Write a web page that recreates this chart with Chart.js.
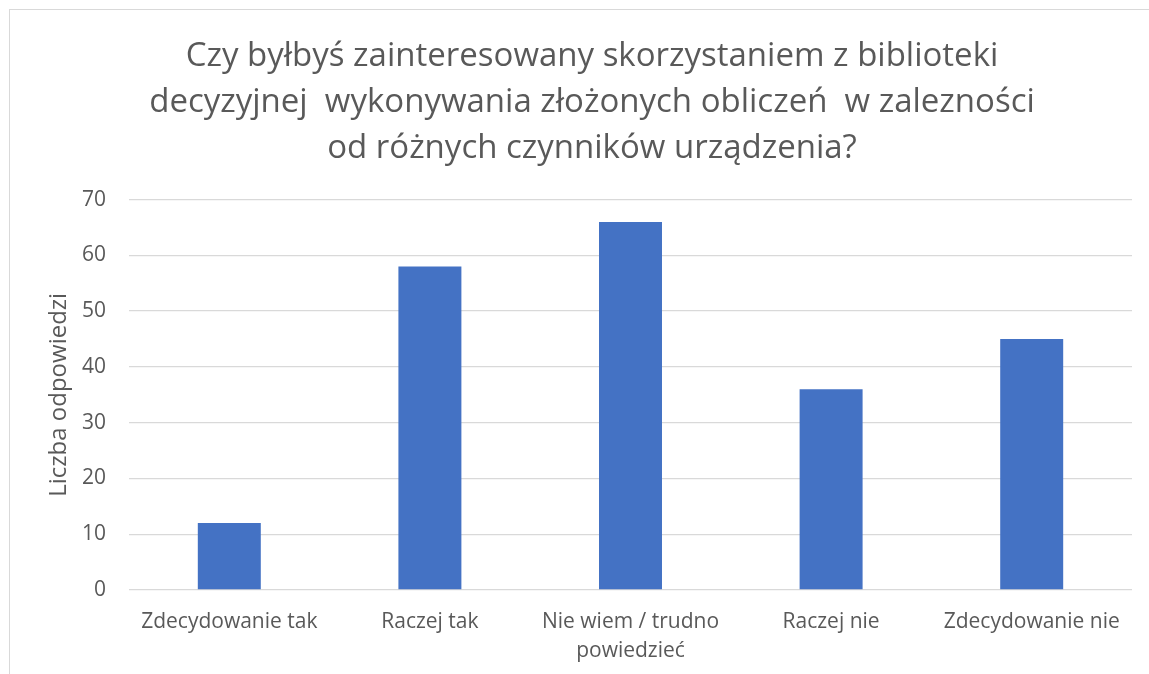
<!DOCTYPE html>
<html>
<head>
<meta charset="utf-8">
<script src="https://cdn.jsdelivr.net/npm/chart.js@4/dist/chart.umd.min.js"></script>
<style>
  html, body { margin: 0; padding: 0; background: #fff; overflow: hidden; }
  #box {
    position: absolute; left: 9px; top: 9px;
    width: 1164px; height: 680px;
    border: 1.5px solid #d9d9d9; background: #fff;
  }
</style>
</head>
<body>
<div id="box"><canvas id="myChart" width="1164" height="680"></canvas></div>
<script>
const categories = [
  'Zdecydowanie tak',
  'Raczej tak',
  ['Nie wiem / trudno', 'powiedzieć'],
  'Raczej nie',
  'Zdecydowanie nie'
];
const answers = [12, 58, 66, 36, 45];
const titleLines = [
  'Czy byłbyś zainteresowany skorzystaniem z biblioteki',
  'decyzyjnej  wykonywania złożonych obliczeń  w zalezności',
  'od różnych czynników urządzenia?'
];

const font = "'Open Sans', Lato, sans-serif";
const grey = '#595959';

var ctx = document.getElementById('myChart');
var myChart = new Chart(ctx, {
  type: 'bar',
  data: {
    labels: categories,
    datasets: [{
      label: 'Liczba odpowiedzi',
      data: answers,
      backgroundColor: '#4472C4',
      borderWidth: 0,
      categoryPercentage: 1,
      barPercentage: 0.314
    }]
  },
  options: {
    responsive: false,
    animation: false,
    // equal side padding keeps the title centred on the whole box
    layout: { padding: { left: 42, right: 42, top: 0, bottom: 0 } },
    plugins: {
      legend: { display: false },
      tooltip: { enabled: false },
      title: {
        display: true,
        text: titleLines,
        color: grey,
        font: { family: font, size: 33, weight: 'normal', lineHeight: 1.4 },
        padding: { top: 23, bottom: 28 }
      }
    },
    scales: {
      x: {
        grid: { display: false, drawTicks: false },
        border: { display: false },
        ticks: {
          color: grey,
          font: { family: font, size: 21, lineHeight: 1.35 },
          padding: 18,
          maxRotation: 0,
          autoSkip: false
        },
        afterFit: function (scale) { scale.height = 100; }
      },
      y: {
        min: 0,
        max: 70,
        ticks: {
          stepSize: 10,
          color: grey,
          font: { family: font, size: 21 },
          padding: 23
        },
        grid: { color: '#d9d9d9', lineWidth: 1.3, drawTicks: false },
        border: { display: false },
        title: {
          display: true,
          text: 'Liczba odpowiedzi',
          color: grey,
          font: { family: font, size: 24 },
          padding: { top: -7, bottom: 0 }
        },
        afterFit: function (scale) { scale.width = 77; }
      }
    }
  }
});
</script>
</body>
</html>
